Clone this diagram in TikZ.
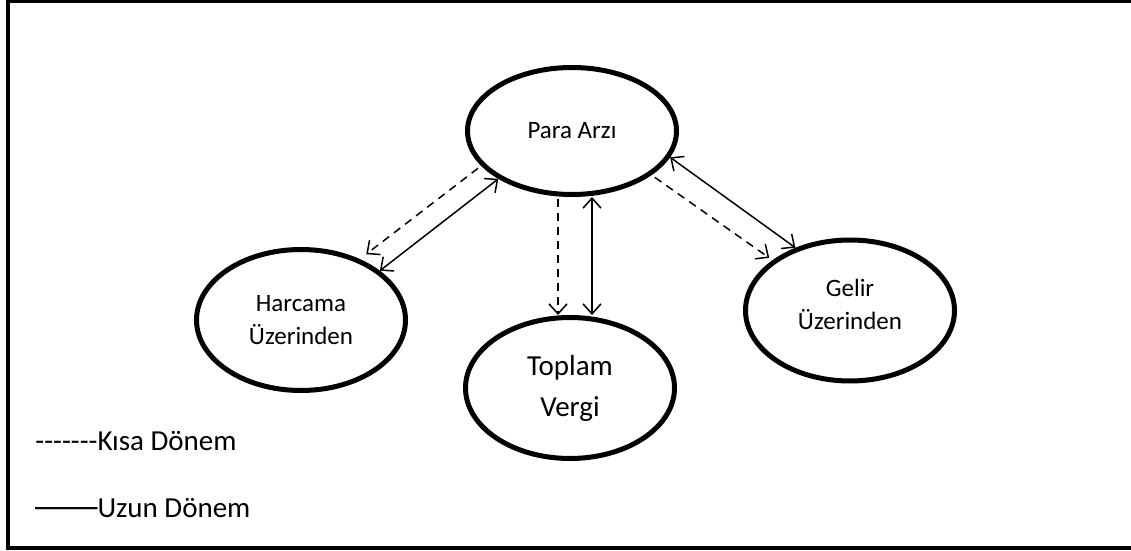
\documentclass[tikz,border=0pt]{standalone}
\usepackage{fontspec}
\setmainfont{Carlito}
\newfontfamily\cizgifont{DejaVu Sans}
\usepackage{tikz}
\usetikzlibrary{arrows.meta,shapes}

\begin{document}
\begin{tikzpicture}[x=0.5pt, y=-0.5pt, inner sep=0pt]
    \tikzstyle{oval}=[ellipse, draw=black, line width=2.5pt, minimum width=104.5pt, minimum height=70.5pt, align=center, font=\fontsize{12.5}{16.5}\selectfont]
    \tikzstyle{uzun}=[{Straight Barb[length=5pt,width=9pt]}-{Straight Barb[length=5pt,width=9pt]}, line width=0.75pt]
    \tikzstyle{kisa}=[-{Straight Barb[length=5pt,width=9pt]}, line width=0.75pt, dash pattern=on 4pt off 3pt]
    \tikzstyle{yazi}=[font=\fontsize{14.5}{17}\selectfont, anchor=base west]

    \useasboundingbox (0,0) rectangle (1131,551);
    \draw[line width=2pt] (8,1.5) rectangle (1140,548);

    \node[oval, minimum height=63.5pt] (para) at (572,131) {Para Arzı};
    \node[oval] (harcama) at (301,320) {Harcama\\Üzerinden};
    \node[oval, font=\fontsize{14.5}{20.5}\selectfont] (toplam) at (570,388) {Toplam\\Vergi};
    \node[oval, text depth=6pt] (gelir) at (850,310.5) {Gelir\\Üzerinden};

    % oklar
    \draw[kisa, shorten <=2pt, shorten >=4pt] (para.201) to (harcama.46);
    \draw[uzun] (para.213) to (harcama.32);

    \draw[kisa, shorten <=1pt] ([xshift=-7pt] para.south) to ([xshift=-7pt] para.south |- toplam.north);
    \draw[uzun] ([xshift=+10pt] para.south) to ([xshift=+10pt] para.south |- toplam.north);

    \draw[uzun] (para.345) to (gelir.131);
    \draw[kisa, shorten <=2pt, shorten >=2pt] (para.331) to (gelir.147);

    % aciklama
    \node[yazi] (kisadonem) at (35,450) {-{}-{}-{}-{}-{}-{}-Kısa Dönem};
    \node[yazi] (uzundonem) at (35,517) {{\cizgifont\fontsize{12.9}{17}\selectfont ────}Uzun Dönem};
\end{tikzpicture}
\end{document}
